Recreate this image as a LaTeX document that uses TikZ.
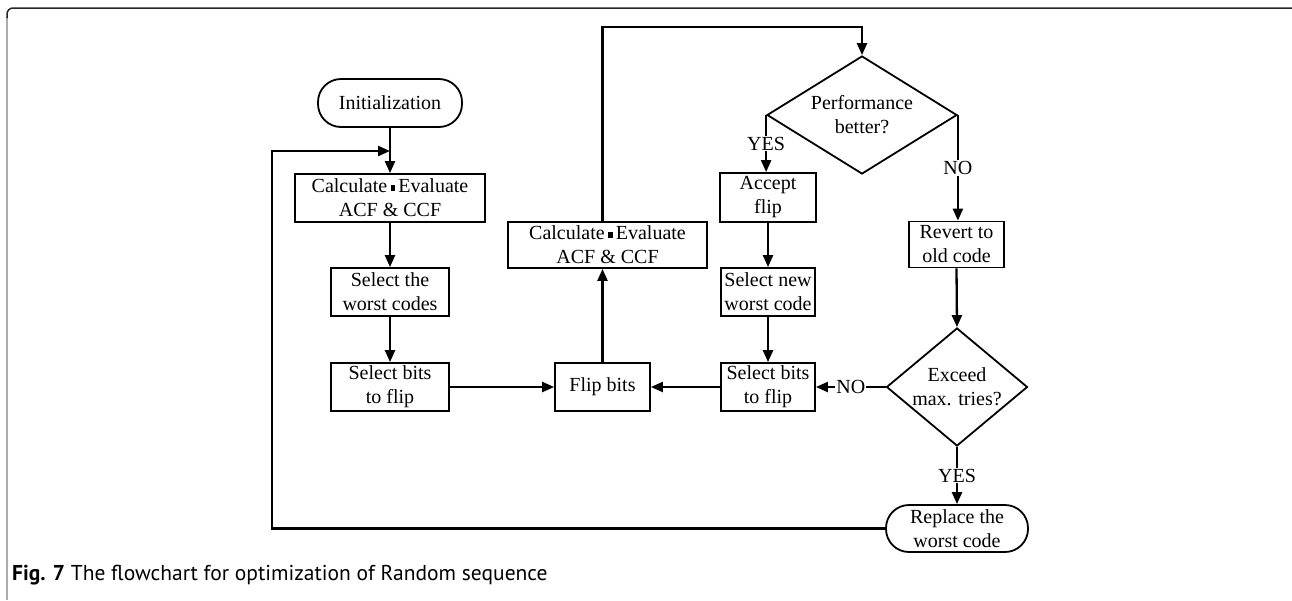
\documentclass[tikz,border=0pt]{standalone}
\usepackage{fontspec}
\setmainfont{Liberation Serif}
\newfontfamily\capfont{PT Sans}
\usetikzlibrary{arrows.meta,shapes.geometric}
\newcommand{\blksq}{\,\raisebox{1.5pt}{\rule{4.5pt}{6.5pt}}\,}
\begin{document}
\begin{tikzpicture}[x=1pt,y=-1pt,
 font=\fontsize{20}{24}\selectfont,
 box/.style={draw, line width=1.8pt, inner sep=0pt, align=center},
 stad/.style={box, rounded corners=23pt},
 dia/.style={draw, diamond, line width=1.8pt, inner sep=0pt},
 conn/.style={line width=2.3pt, -{Triangle[length=12pt,width=10pt]}},
 lbl/.style={fill=white, inner sep=1pt}]
\useasboundingbox (0,0) rectangle (1292,600);
% frame
\draw[gray!65, line width=1.5pt] (7,600) -- (7,16);
\draw[black!85, line width=1.5pt, rounded corners=6pt] (7,18) -- (7,8) -- (1292,8);

% nodes
\node[stad, minimum width=144pt, minimum height=48pt] (init) at (390,103) {Initialization};
\node[box, minimum width=190pt, minimum height=48pt] (calc1) at (390,198) {Calculate\blksq Evaluate\\ACF \& CCF};
\node[box, minimum width=118pt, minimum height=48pt] (worst) at (390,292) {Select the\\worst codes};
\node[box, minimum width=118pt, minimum height=48pt] (sel1) at (390,387) {Select bits\\to flip};
\node[box, minimum width=95pt, minimum height=48pt] (flip) at (602.5,387) {Flip bits};
\node[box, minimum width=199pt, minimum height=46pt] (calc2) at (607.5,245) {Calculate\blksq Evaluate\\ACF \& CCF};
\node[dia, minimum width=190pt, minimum height=118pt,
  label={[align=center]center:Performance\\better?}] (perf) at (862,115) {};
\node[box, minimum width=96pt, minimum height=49pt] (acc) at (768,197.5) {Accept\\flip};
\node[box, minimum width=94pt, minimum height=48pt] (selnew) at (768,292) {Select new\\worst code};
\node[box, minimum width=94pt, minimum height=48pt] (sel2) at (768,387) {Select bits\\to flip};
\node[box, minimum width=95pt, minimum height=46pt] (rev) at (956.5,244.5) {Revert to\\old code};
\node[dia, minimum width=141pt, minimum height=118pt,
  label={[align=center]center:Exceed\\max. tries?}] (ex) at (957,387) {};
\node[stad, minimum width=142pt, minimum height=47pt] (rep) at (957,528.5) {Replace the\\worst code};

% helper coordinates
\coordinate (lx) at (272,151);
\coordinate (join) at (390,151);
\coordinate (tp) at (602.5,27);

% connectors
\draw[conn] (init) -- (calc1);
\draw[conn] (calc1) -- (worst);
\draw[conn] (worst) -- (sel1);
\draw[conn] (sel1) -- (flip);
\draw[conn] (flip.north) -- (flip.north |- calc2.south);
\draw[conn] (flip.north |- calc2.north) -- (tp) -- (perf.north |- tp) -- (perf.north);
\draw[conn] (perf.west) -- node[lbl]{YES} (perf.west |- acc.north);
\draw[conn] (perf.east) -- node[lbl]{NO} (perf.east |- rev.north);
\draw[conn] (acc) -- (selnew);
\draw[conn] (selnew) -- (sel2);
\draw[conn] (sel2) -- (flip);
\draw[conn] (rev.south) -- (ex.north);
\draw[conn] (ex.west) -- node[lbl]{NO} (sel2.east);
\draw[conn] (ex.south) -- node[lbl]{YES} (rep.north);
\draw[conn] (rep.west) -- (rep.west -| lx) -- (lx) -- (join);

% caption
\node[anchor=base west, inner sep=0pt] (cap) at (12,580)
  {\capfont\fontsize{21.5}{25}\selectfont\textbf{Fig. 7} The flowchart for optimization of Random sequence};
\end{tikzpicture}
\end{document}
